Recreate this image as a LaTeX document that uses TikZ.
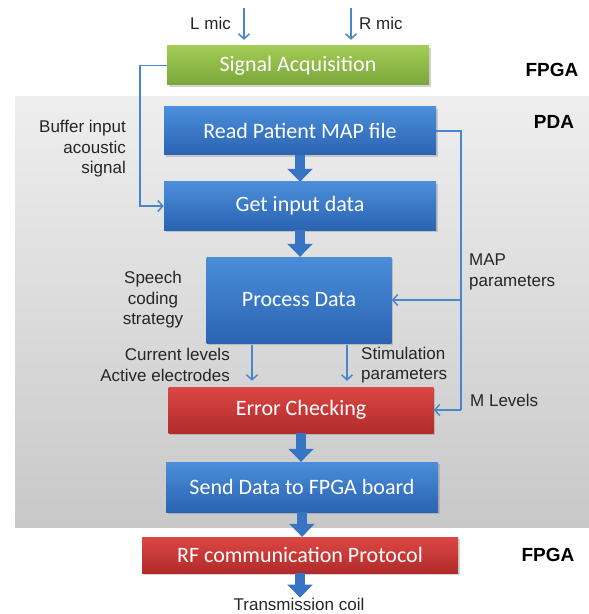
\documentclass[tikz,border=0pt]{standalone}
\usepackage{fontspec}
\setmainfont{Liberation Sans}
\newfontfamily\boxfont{Carlito}
\usetikzlibrary{arrows.meta,shadows}
\definecolor{linkblue}{HTML}{4A86CC}
\definecolor{fatblue}{HTML}{3774C4}
\definecolor{bluetop}{HTML}{4B8EDA}
\definecolor{bluebot}{HTML}{2A63B2}
\definecolor{greentop}{HTML}{A3CB55}
\definecolor{greenbot}{HTML}{7AA63A}
\definecolor{redtop}{HTML}{DC4744}
\definecolor{redbot}{HTML}{B12B2A}
\definecolor{graytop}{HTML}{EEEEEE}
\definecolor{graybot}{HTML}{C8C8C8}
\begin{document}
\begin{tikzpicture}[x=1bp, y=-1bp,
    blk/.style={minimum width=272bp, minimum height=48bp, inner sep=0pt, text=white,
        font=\boxfont\fontsize{22bp}{26bp}\selectfont,
        drop shadow={shadow xshift=1.5bp, shadow yshift=-2bp, opacity=.35}},
    bluebox/.style={blk, top color=bluetop, bottom color=bluebot},
    greenbox/.style={blk, top color=greentop, bottom color=greenbot},
    redbox/.style={blk, top color=redtop, bottom color=redbot},
    lbl/.style={font=\fontsize{17bp}{20.5bp}\selectfont, text=black!85, inner sep=0pt},
    tag/.style={font=\bfseries\fontsize{19bp}{22bp}\selectfont, inner sep=0pt},
    link/.style={draw=linkblue, line width=1.5bp},
    linkarrow/.style={link, -{Straight Barb[length=5bp, width=11bp, line width=1.5bp]}},
    fat/.style={draw=fatblue, line width=10bp, -{Triangle[width=25bp, length=13bp]}}]
\useasboundingbox (0,0) rectangle (589,614);
\fill[top color=graytop, bottom color=graybot] (15,97) rectangle (589,527);

\node[greenbox, minimum width=262bp, minimum height=39bp] (sig) at (298,65.5) {Signal Acquisition};
\node[bluebox] (read) at (300,131) {Read Patient MAP file};
\node[bluebox] (get) at (300,206) {Get input data};
\node[bluebox, minimum width=185bp, minimum height=86bp] (proc) at (299,300) {Process Data};
\node[redbox, minimum width=265bp, minimum height=46bp] (err) at (301,410) {Error Checking};
\node[bluebox, minimum height=50bp] (send) at (302,487) {Send Data to FPGA board};
\node[redbox, minimum width=316bp, minimum height=36bp] (rf) at (300,555) {RF communication Protocol};
\node[lbl] (coil) at (299,604) {Transmission coil};

\coordinate (lmic) at (244,8);
\coordinate (rmic) at (351,8);
\coordinate (lx) at (140,0);
\coordinate (rx) at (461,0);
\draw[linkarrow, shorten >=6bp] (lmic) -- (lmic |- sig.north);
\draw[linkarrow, shorten >=6bp] (rmic) -- (rmic |- sig.north);
\node[lbl, anchor=east] (lmiclbl) at (231,23) {L mic};
\node[lbl, anchor=west] (rmiclbl) at (359,23) {R mic};

\draw[linkarrow] (sig.west) -| (lx |- get.west) -- (get.west);
\draw[link] (read.east) -| (rx |- err.east);
\draw[linkarrow] (rx |- err.east) -- (err.east);
\draw[linkarrow] (rx |- proc.east) -- (proc.east);
\draw[linkarrow, shorten <=2bp, shorten >=6bp] ([xshift=-47bp]proc.south) -- ([xshift=-47bp]proc.south |- err.north);
\draw[linkarrow, shorten <=2bp, shorten >=6bp] ([xshift=48bp]proc.south) -- ([xshift=48bp]proc.south |- err.north);

\draw[fat] (read.south) -- (read.south |- get.north);
\draw[fat] (get.south) -- (get.south |- proc.north);
\draw[fat] (err.south) -- (err.south |- send.north);
\draw[fat] (send.south) -- (send.south |- rf.north);
\draw[fat] (rf.south) -- (rf.south |- coil.north);

\node[lbl, align=right, anchor=east] (buf) at (126,149) {Buffer input\\acoustic\\signal};
\node[lbl, align=center] (speech) at (153,300) {Speech\\coding\\strategy};
\node[lbl, align=left, anchor=west] (mappar) at (469,272) {MAP\\parameters};
\node[lbl, align=right, anchor=east] (cur) at (230,365) {Current levels\\Active electrodes};
\node[lbl, align=left, anchor=west] (stim) at (361,365) {Stimulation\\parameters};
\node[lbl, anchor=west] (mlev) at (470,400) {M Levels};

\node[tag] (fpga1) at (552,70) {FPGA};
\node[tag] (pda) at (554,122) {PDA};
\node[tag] (fpga2) at (548,555) {FPGA};
\end{tikzpicture}
\end{document}
